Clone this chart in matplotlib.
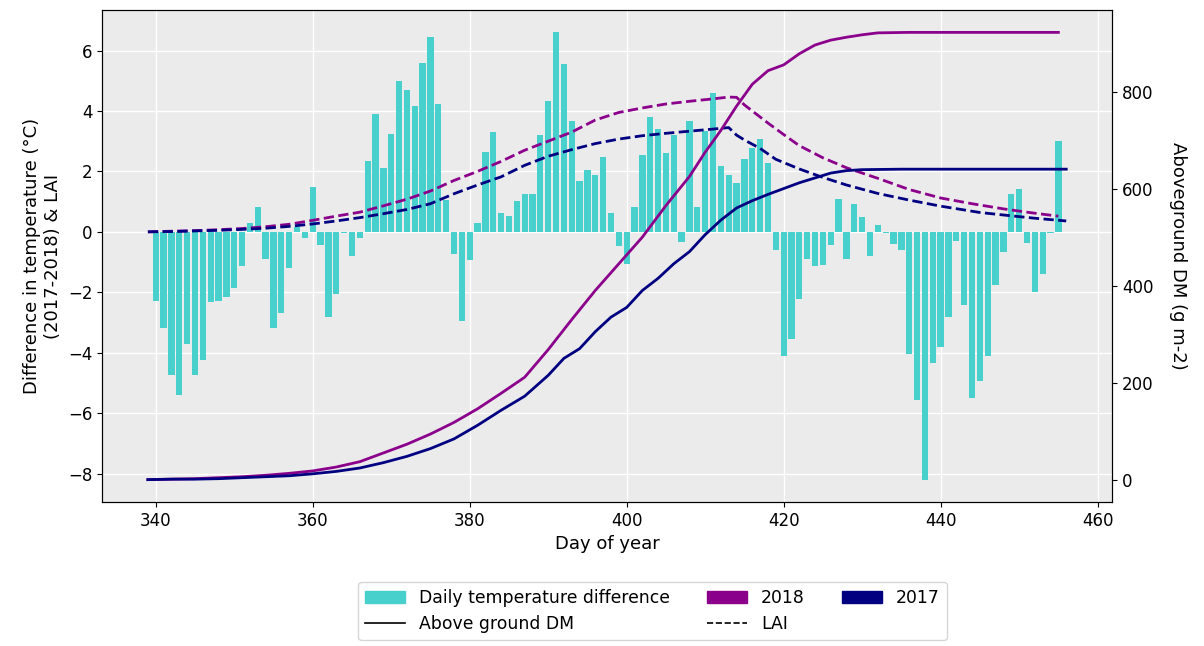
import numpy as np
import matplotlib
matplotlib.use("Agg")
import matplotlib.pyplot as plt
from matplotlib.patches import Patch
from matplotlib.lines import Line2D

# daily temperature difference (2017-2018), days 340..455
bar_days = np.arange(340, 456)
temp_diff = [
    -2.28, -3.18, -4.75, -5.41, -3.72, -4.75, -4.25, -2.33, -2.28, -2.15,
    -1.87, -1.13, 0.29, 0.83, -0.9, -3.18, -2.7, -1.2, 0.15, -0.19,
    1.5, -0.42, -2.83, -2.05, -0.05, -0.79, -0.19, 2.34, 3.9, 2.1,
    3.25, 4.98, 4.68, 4.15, 5.6, 6.45, 4.22, 1.06, -0.72, -2.94,
    -0.94, 0.3, 2.64, 3.31, 0.61, 0.53, 1.02, 1.26, 1.26, 3.2,
    4.34, 6.6, 5.56, 3.68, 1.68, 2.04, 1.88, 2.48, 0.61, -0.48,
    -1.08, 0.83, 2.53, 3.81, 3.39, 2.6, 3.2, -0.34, 3.68, 0.83,
    3.33, 4.59, 2.17, 1.88, 1.63, 2.41, 2.77, 3.08, 2.29, -0.6,
    -4.1, -3.56, -2.22, -0.91, -1.14, -1.09, -0.42, 1.08, -0.91, 0.91,
    0.48, -0.79, 0.23, -0.05, -0.41, -0.6, -4.04, -5.56, -8.2, -4.33,
    -3.8, -2.83, -0.3, -2.42, -5.5, -4.94, -4.11, -1.76, -0.67, 1.26,
    1.43, -0.36, -1.98, -1.39, -0.04, 3.0,
]

# LAI (left axis)
lai18_days = [339, 342, 345, 348, 351, 354, 357, 360, 363, 366, 369, 372, 375, 378,
              381, 384, 387, 390, 393, 396, 399, 402, 405, 408, 411, 413, 414, 415,
              416, 418, 420, 422, 425, 428, 432, 436, 440, 444, 448, 451, 454, 455]
lai18 = [0.0, 0.02, 0.04, 0.07, 0.11, 0.17, 0.25, 0.38, 0.52, 0.65, 0.86, 1.08, 1.35, 1.7,
         2.0, 2.33, 2.7, 3.0, 3.3, 3.7, 3.95, 4.1, 4.23, 4.32, 4.4, 4.46, 4.45, 4.2,
         4.0, 3.6, 3.22, 2.85, 2.45, 2.12, 1.77, 1.4, 1.12, 0.93, 0.76, 0.65, 0.55, 0.52]
lai17_days = [339, 342, 345, 348, 351, 354, 357, 360, 363, 366, 369, 372, 375, 378,
              381, 384, 387, 390, 393, 396, 399, 402, 405, 408, 411, 413, 414, 415,
              417, 419, 422, 425, 428, 432, 436, 440, 445, 449, 452, 456]
lai17 = [0.0, 0.01, 0.03, 0.05, 0.08, 0.12, 0.18, 0.26, 0.36, 0.47, 0.6, 0.74, 0.93, 1.26,
         1.55, 1.82, 2.2, 2.5, 2.72, 2.92, 3.07, 3.18, 3.26, 3.33, 3.4, 3.45, 3.2, 3.04,
         2.76, 2.4, 2.08, 1.8, 1.55, 1.27, 1.05, 0.85, 0.64, 0.53, 0.45, 0.36]

# Aboveground DM (right axis)
dm18_days = [339, 342, 345, 348, 351, 354, 357, 360, 363, 366, 369, 372, 375, 378,
             381, 384, 387, 390, 393, 396, 399, 402, 405, 408, 410, 412, 414, 416,
             418, 420, 422, 424, 426, 428, 430, 432, 436, 440, 445, 450, 455]
dm18 = [0, 1, 2, 4, 6, 9, 13, 18, 26, 37, 55, 73, 94, 118,
        146, 178, 211, 268, 330, 390, 445, 500, 565, 625, 675, 720, 770, 815,
        843, 855, 878, 896, 906, 912, 917, 921, 922, 922, 922, 922, 922]
dm17_days = [339, 342, 345, 348, 351, 354, 357, 360, 363, 366, 369, 372, 375, 378,
             381, 384, 387, 390, 392, 394, 396, 398, 400, 402, 404, 406, 408, 410,
             412, 414, 416, 418, 420, 422, 424, 426, 428, 430, 435, 440, 445, 450, 456]
dm17 = [0, 1, 1, 2, 4, 6, 8, 12, 17, 24, 35, 48, 64, 84,
        112, 143, 172, 215, 250, 270, 305, 335, 355, 390, 415, 445, 470, 505,
        535, 560, 575, 588, 600, 612, 622, 632, 637, 639, 640, 640, 640, 640, 640]

c_bar = "mediumturquoise"
c18 = "darkmagenta"
c17 = "navy"

plt.rcParams['font.size'] = 12
plt.rcParams['axes.labelsize'] = 13
fig = plt.figure(figsize=(12.04, 6.46), dpi=100)
ax1 = fig.add_axes([0.0847, 0.2229, 0.839, 0.7616])
ax1.set_facecolor("#EBEBEB")
ax1.set_axisbelow(True)
ax1.grid(color="white", linewidth=1)

ax1.bar(bar_days, temp_diff, width=0.8, color=c_bar)
ax1.plot(lai18_days, lai18, color=c18, linestyle="--", linewidth=2)
ax1.plot(lai17_days, lai17, color=c17, linestyle="--", linewidth=2)
ax1.set_xlabel("Day of year")
ax1.set_ylabel("Difference in temperature (°C)\n(2017-2018) & LAI")

ax2 = ax1.twinx()
ax2.plot(dm18_days, dm18, color=c18, linewidth=2)
ax2.plot(dm17_days, dm17, color=c17, linewidth=2)
ax2.set_ylabel("Aboveground DM (g m-2)", rotation=270, labelpad=24)

handles = [Patch(color=c_bar, label="Daily temperature difference"),
           Line2D([], [], color="black", linewidth=1.2, label="Above ground DM"),
           Patch(color=c18, label="2018"),
           Line2D([], [], color="black", linewidth=1.2, linestyle="--", label="LAI"),
           Patch(color=c17, label="2017")]
ax1.legend(handles=handles, ncol=3, loc="upper center",
           bbox_to_anchor=(0.545, -0.145), fontsize=12.4, handlelength=2.3,
           columnspacing=2.2)

fig.savefig("out.png", dpi=100)
